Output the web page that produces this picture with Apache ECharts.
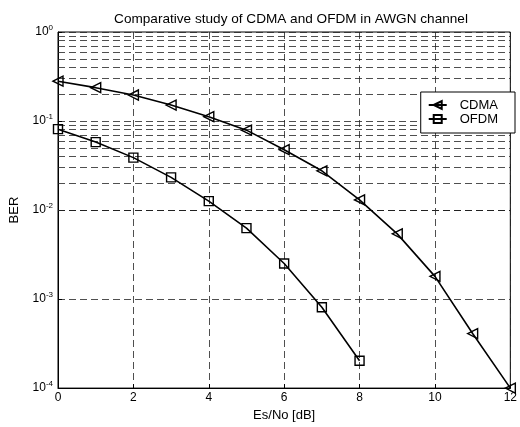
<!DOCTYPE html>
<html>
<head>
<meta charset="utf-8">
<script src="https://cdn.jsdelivr.net/npm/echarts@6/dist/echarts.min.js"></script>
<style>
  html, body { margin: 0; padding: 0; background: #fff; }
  #chart { width: 520px; height: 427px; }
</style>
</head>
<body>
<div id="chart"></div>
<script>
// data
var snr = [0, 1, 2, 3, 4, 5, 6, 7, 8, 9, 10, 11, 12];
var berCdma = [0.28, 0.237, 0.196, 0.151, 0.112, 0.079, 0.0476, 0.0276, 0.013, 0.0054, 0.0018, 0.00041, 0.0001];
var berOfdm = [0.081, 0.058, 0.0388, 0.0233, 0.0126, 0.00626, 0.00251, 0.00081, 0.000203];

// dashed minor grid lines of the log axis (2..9 x each decade)
var minorGrid = [];
[1e-4, 1e-3, 1e-2, 1e-1].forEach(function (d) {
    for (var m = 2; m <= 9; m++) minorGrid.push(m * d);
});

function pairs(xs, ys) {
    return ys.map(function (y, i) { return [xs[i], y]; });
}

var font = 'Liberation Sans, Arial, sans-serif';
var dash = { color: '#222', width: 0.8, type: [7, 4] };

var chart = echarts.init(document.getElementById('chart'));
chart.setOption({
    animation: false,
    textStyle: { fontFamily: font },
    title: {
        text: 'Comparative study of CDMA and OFDM in AWGN channel',
        left: 286, top: 7, textAlign: 'center',
        textStyle: { fontSize: 13.6, fontWeight: 'normal', color: '#000', fontFamily: font }
    },
    grid: {
        left: 58, right: 5, top: 32, bottom: 35,
        show: true, borderColor: '#000', borderWidth: 1
    },
    legend: {
        orient: 'vertical',
        right: 5, top: 92, z: 20,
        backgroundColor: '#fff',
        borderColor: '#000', borderWidth: 1,
        padding: [6, 17, 7, 7],
        itemGap: 0,
        itemWidth: 18, itemHeight: 10,
        textStyle: { fontSize: 13, color: '#000', fontFamily: font, lineHeight: 14, padding: [0, 0, 0, 8] },
        data: ['CDMA', 'OFDM']
    },
    xAxis: {
        type: 'value', min: 0, max: 12, interval: 2,
        name: 'Es/No [dB]', nameLocation: 'middle', nameGap: 19,
        nameTextStyle: { fontSize: 13, color: '#000' },
        axisLine: { lineStyle: { color: '#000' } },
        axisTick: { inside: true, length: 4, lineStyle: { color: '#000' } },
        axisLabel: { fontSize: 12, color: '#000', margin: 4 },
        splitLine: { show: true, lineStyle: dash }
    },
    yAxis: {
        type: 'log', logBase: 10, min: 1e-4, max: 1,
        name: 'BER', nameLocation: 'middle', nameGap: 37,
        nameTextStyle: { fontSize: 13, color: '#000' },
        axisLine: { lineStyle: { color: '#000' } },
        axisTick: { inside: true, length: 4, lineStyle: { color: '#000' } },
        axisLabel: {
            color: '#000', margin: 5,
            formatter: function (v) {
                return '{b|10}{s|' + Math.round(Math.log10(v)) + '}';
            },
            rich: {
                b: { fontSize: 12, color: '#000', fontFamily: font },
                s: { fontSize: 8, color: '#000', fontFamily: font, padding: [0, 0, 9, 0] }
            }
        },
        splitLine: { show: true, lineStyle: dash }
    },
    series: [
        {
            name: 'CDMA', type: 'line',
            data: pairs(snr, berCdma),
            symbol: 'triangle', symbolRotate: 90, symbolSize: 10,
            lineStyle: { color: '#000', width: 1.6 },
            itemStyle: { color: 'rgba(0,0,0,0)', borderColor: '#000', borderWidth: 1.4 },
            markLine: {
                silent: true, symbol: 'none', label: { show: false },
                lineStyle: dash, z: 1,
                data: minorGrid.map(function (v) { return { yAxis: v }; })
            },
            z: 3
        },
        {
            name: 'OFDM', type: 'line',
            data: pairs(snr, berOfdm),
            symbol: 'rect', symbolSize: 9,
            lineStyle: { color: '#000', width: 1.6 },
            itemStyle: { color: 'rgba(0,0,0,0)', borderColor: '#000', borderWidth: 1.4 },
            z: 3
        }
    ]
});
</script>
</body>
</html>
